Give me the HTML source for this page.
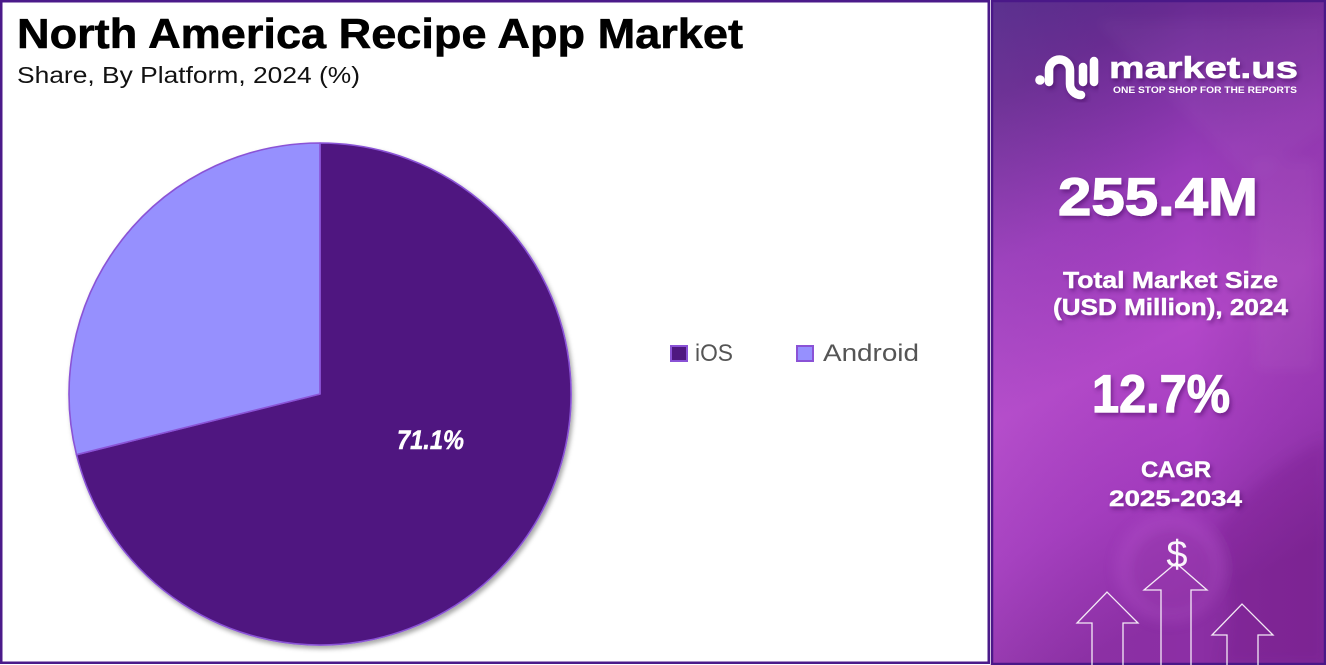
<!DOCTYPE html>
<html>
<head>
<meta charset="utf-8">
<style>
  html,body{margin:0;padding:0;background:#fff;}
  body{width:1326px;height:665px;overflow:hidden;}
  svg{display:block;font-family:"Liberation Sans", sans-serif;}
</style>
</head>
<body>
<svg width="1326" height="665" viewBox="0 0 1326 665" xmlns="http://www.w3.org/2000/svg">
  <defs>
    <linearGradient id="rp" x1="0" y1="0" x2="0.25" y2="1">
      <stop offset="0" stop-color="#54298a"/>
      <stop offset="0.14" stop-color="#682b92"/>
      <stop offset="0.38" stop-color="#9a3cbb"/>
      <stop offset="0.6" stop-color="#b247c9"/>
      <stop offset="0.8" stop-color="#a43cbf"/>
      <stop offset="1" stop-color="#8c2fa5"/>
    </linearGradient>
    <linearGradient id="rp2" x1="0" y1="0" x2="1" y2="0">
      <stop offset="0" stop-color="#ffffff" stop-opacity="0.04"/>
      <stop offset="0.6" stop-color="#000000" stop-opacity="0"/>
      <stop offset="1" stop-color="#3a0a50" stop-opacity="0.12"/>
    </linearGradient>
    <filter id="ps" x="-10%" y="-10%" width="120%" height="120%">
      <feDropShadow dx="2" dy="3" stdDeviation="2.5" flood-color="#000" flood-opacity="0.35"/>
    </filter>
    <filter id="ts" x="-10%" y="-20%" width="120%" height="140%">
      <feDropShadow dx="2" dy="3" stdDeviation="2" flood-color="#3a0a55" flood-opacity="0.45"/>
    </filter>
    <filter id="bl" x="-20%" y="-20%" width="140%" height="140%">
      <feGaussianBlur stdDeviation="6"/>
    </filter>
  </defs>

  <!-- Left panel -->
  <rect x="1.25" y="1.25" width="987.5" height="661.5" fill="#ffffff" stroke="#4b1a8a" stroke-width="2.5"/>

  <text x="17" y="48" font-size="42" font-weight="bold" fill="#000" stroke="#000" stroke-width="0.6" textLength="726" lengthAdjust="spacingAndGlyphs">North America Recipe App Market</text>
  <text x="17" y="83" font-size="23" fill="#111" textLength="343" lengthAdjust="spacingAndGlyphs">Share, By Platform, 2024 (%)</text>

  <!-- Pie -->
  <g filter="url(#ps)">
    <path d="M320,394 L320,143 A251,251 0 1 1 76.5,454.7 Z" fill="#4f1880" stroke="#8a52d6" stroke-width="1.6" stroke-linejoin="round"/>
    <path d="M320,394 L320,143 A251,251 0 0 0 76.5,454.7 Z" fill="#9690fe" stroke="#8a52d6" stroke-width="1.6" stroke-linejoin="round"/>
  </g>
  <text x="397" y="449" font-size="27" font-weight="bold" font-style="italic" fill="#ffffff" stroke="#ffffff" stroke-width="0.5" textLength="67" lengthAdjust="spacingAndGlyphs">71.1%</text>

  <!-- Legend -->
  <rect x="671" y="346" width="16" height="15" fill="#4f1880" stroke="#8a52d6" stroke-width="2"/>
  <text x="695" y="361" font-size="24" fill="#555555" textLength="38" lengthAdjust="spacingAndGlyphs">iOS</text>
  <rect x="797" y="346" width="16" height="15" fill="#9690fe" stroke="#8a52d6" stroke-width="2"/>
  <text x="823" y="361" font-size="24" fill="#555555" textLength="96" lengthAdjust="spacingAndGlyphs">Android</text>

  <!-- Right panel -->
  <rect x="991" y="0" width="335" height="665" fill="url(#rp)"/>
  <rect x="991" y="0" width="335" height="665" fill="url(#rp2)"/>
  <!-- decorative background shapes (soft) -->
  <g filter="url(#bl)">
    <polygon points="1095,20 1326,20 1326,130 1250,180" fill="#ffffff" opacity="0.03"/>
    <rect x="1255" y="160" width="60" height="210" fill="#ffffff" opacity="0.04"/>
    <circle cx="1170" cy="568" r="54" fill="#c060d2" opacity="0.25"/>
    <circle cx="1172" cy="570" r="42" fill="#7a2494" opacity="0.25"/>
    <path d="M1215,530 Q1260,470 1326,440 L1326,665 L1220,665 Q1240,600 1215,530 Z" fill="#5a1470" opacity="0.15"/>
  </g>
  <rect x="992" y="1" width="333" height="663" fill="none" stroke="#4a1888" stroke-width="2.5"/>

  <!-- Logo -->
  <g stroke="#ffffff" stroke-width="8.5" stroke-linecap="round" fill="none" filter="url(#ts)">
    <path d="M1049,82 V70 A10.5,10.5 0 0 1 1070,70 V84 A11,11 0 0 0 1081,95"/>
    <path d="M1083,67 V82"/>
    <path d="M1094,61 V82"/>
  </g>
  <circle cx="1040" cy="80" r="4.8" fill="#ffffff"/>
  <text x="1109" y="78" font-size="31" font-weight="bold" fill="#ffffff" stroke="#ffffff" stroke-width="0.6" textLength="189" lengthAdjust="spacingAndGlyphs" filter="url(#ts)">market.us</text>
  <text x="1113" y="93" font-size="9.5" font-weight="bold" fill="#ffffff" textLength="184" lengthAdjust="spacingAndGlyphs">ONE STOP SHOP FOR THE REPORTS</text>

  <!-- Stats -->
  <g fill="#ffffff" font-weight="bold" filter="url(#ts)">
    <text x="1058" y="215" font-size="53" stroke="#ffffff" stroke-width="1.2" textLength="200" lengthAdjust="spacingAndGlyphs">255.4M</text>
    <text x="1063" y="288" font-size="23" stroke="#ffffff" stroke-width="0.4" textLength="215" lengthAdjust="spacingAndGlyphs">Total Market Size</text>
    <text x="1053" y="315" font-size="23" stroke="#ffffff" stroke-width="0.4" textLength="235" lengthAdjust="spacingAndGlyphs">(USD Million), 2024</text>
    <text x="1092" y="412" font-size="53" stroke="#ffffff" stroke-width="1.2" textLength="138" lengthAdjust="spacingAndGlyphs">12.7%</text>
    <text x="1141" y="477" font-size="22" stroke="#ffffff" stroke-width="0.4" textLength="70" lengthAdjust="spacingAndGlyphs">CAGR</text>
    <text x="1109" y="506" font-size="22" stroke="#ffffff" stroke-width="0.4" textLength="133" lengthAdjust="spacingAndGlyphs">2025-2034</text>
  </g>
  <text x="1177" y="567" font-size="38" fill="#ffffff" text-anchor="middle" opacity="0.95">$</text>

  <!-- Arrows -->
  <g fill="none" stroke="#ffffff" stroke-width="1.3" opacity="0.9" stroke-linejoin="miter">
    <polyline points="1092,665 1092,623 1077,623 1107,592 1138,623 1123,623 1123,665"/>
    <polyline points="1161,665 1161,590 1144,590 1176,563 1207,590 1191,590 1191,665"/>
    <polyline points="1227,665 1227,635 1212,635 1242,604 1273,635 1258,635 1258,665"/>
  </g>
</svg>
</body>
</html>
